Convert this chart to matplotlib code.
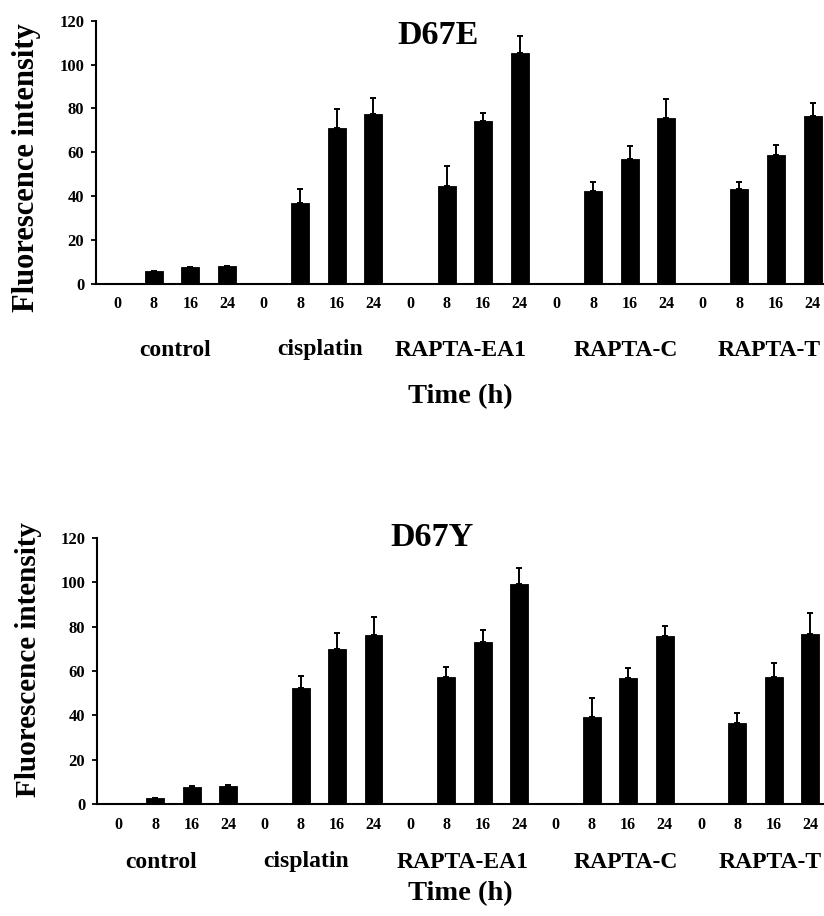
import numpy as np
import matplotlib
matplotlib.use("Agg")
import matplotlib.pyplot as plt
from matplotlib.transforms import blended_transform_factory

plt.rcParams["font.family"] = ["Liberation Serif", "DejaVu Serif"]
plt.rcParams["font.weight"] = "bold"

# ---- data ----
groups = ["control", "cisplatin", "RAPTA-EA1", "RAPTA-C", "RAPTA-T"]
times = ["0", "8", "16", "24"]

d67e_mean = [0, 5.8, 7.8, 8.2,
             0, 36.8, 71.2, 77.5,
             0, 44.6, 74.5, 105.3,
             0, 42.2, 56.8, 75.8,
             0, 43.4, 58.6, 76.5]
d67e_err = [0, 0, 0, 0,
            0, 6.3, 8.4, 7.2,
            0, 9.0, 3.5, 7.8,
            0, 4.2, 6.2, 8.6,
            0, 2.9, 4.8, 5.9]

d67y_mean = [0, 2.8, 7.8, 8.3,
             0, 52.2, 70.0, 76.2,
             0, 57.3, 73.2, 99.3,
             0, 39.1, 56.7, 75.6,
             0, 36.7, 57.3, 76.6]
d67y_err = [0, 0.2, 0.5, 0.5,
            0, 5.5, 7.1, 8.0,
            0, 4.5, 5.1, 7.0,
            0, 8.7, 4.5, 4.6,
            0, 4.4, 6.1, 9.6]

W, H = 824, 916
fig = plt.figure(figsize=(W / 100, H / 100), dpi=100)


def fy(py):
    return 1 - py / H


def panel(title, mean, err, left_px, y0_px, y120_px, xlim,
          title_x, title_y, grp_pos, grp_y, time_y, ylab_x, ylab_y, ylab_size):
    ax = fig.add_axes([left_px / W, fy(y0_px), 1 - left_px / W, fy(y120_px) - fy(y0_px)])
    x = np.arange(len(mean))
    mean = np.asarray(mean)
    err = np.asarray(err)
    ax.bar(x, mean, width=0.49, color="black", edgecolor="black", linewidth=0.6, zorder=2)
    has = mean > 0
    ax.errorbar(x[has], mean[has], yerr=[np.zeros(has.sum()), err[has]], fmt="none",
                ecolor="black", elinewidth=1.4, capsize=2.5, capthick=1.4, zorder=3)
    ax.set_xlim(*xlim)
    ax.set_ylim(0, 120)
    ax.set_yticks(np.arange(0, 121, 20))
    ax.set_xticks(x)
    ax.set_xticklabels(times * len(groups))
    for s in ("top", "right"):
        ax.spines[s].set_visible(False)
    for s in ("left", "bottom"):
        ax.spines[s].set_linewidth(1.5)
        ax.spines[s].set_zorder(4)
    ax.tick_params(axis="y", direction="out", length=3.5, width=1.3, labelsize=12, pad=5)
    ax.tick_params(axis="x", length=0, labelsize=11.5, pad=9)
    for lab in ax.get_xticklabels() + ax.get_yticklabels():
        lab.set_fontweight("bold")
    ax.set_facecolor("none")

    fig.text(title_x / W, fy(title_y), title, ha="center", va="center",
             fontsize=24.5, fontweight="bold")
    tr = blended_transform_factory(ax.transData, fig.transFigure)
    for g, gx in zip(groups, grp_pos):
        fig.text(gx, fy(grp_y), g, transform=tr, ha="center", va="center",
                 fontsize=17, fontweight="bold")
    fig.text(460 / W, fy(time_y), "Time (h)", ha="center", va="center",
             fontsize=20.5, fontweight="bold")
    fig.text(ylab_x / W, fy(ylab_y), "Fluorescence intensity", rotation=90,
             ha="center", va="center", fontsize=ylab_size, fontweight="bold")
    return ax


panel("D67E", d67e_mean, d67e_err, 96, 284.0, 20.7, (-0.58, 19.31),
      438, 36, [1.58, 5.53, 9.38, 13.89, 17.82], 350, 397, 27, 168, 22)
panel("D67Y", d67y_mean, d67y_err, 97, 804.3, 537.7, (-0.6, 19.38),
      432, 538, [1.15, 5.16, 9.44, 13.94, 17.91], 862, 894, 29, 660, 21)

fig.savefig("out.png", dpi=100)
